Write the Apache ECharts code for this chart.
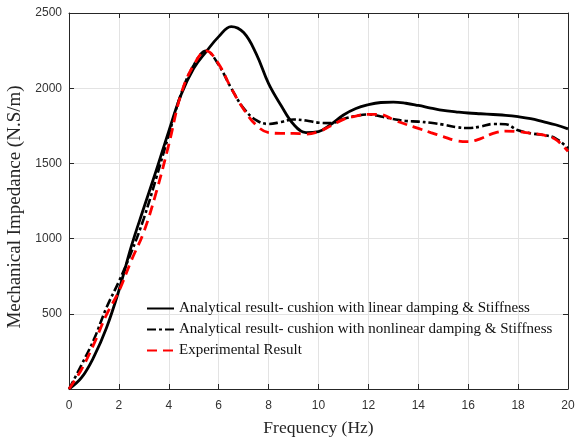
<!DOCTYPE html>
<html>
<head>
<meta charset="utf-8">
<script src="https://cdn.jsdelivr.net/npm/echarts@6/dist/echarts.min.js"></script>
<style>
html,body{margin:0;padding:0;background:#fff;}
#chart{width:579px;height:438px;}
</style>
</head>
<body>
<div id="chart"></div>
<script>
const freq = [0,0.5,1,1.5,2,2.5,3,3.5,4,4.5,5,5.5,6,6.5,7,7.5,8,8.5,9,9.5,10,10.5,11,11.5,12,12.5,13,13.5,14,14.5,15,15.5,16,16.5,17,17.5,18,18.5,19,19.5,20];
const linearDamping = [0,75,215,405,655,950,1205,1455,1715,1960,2132,2243,2343,2410,2370,2230,2030,1885,1760,1705,1712,1760,1822,1865,1890,1905,1908,1900,1885,1868,1852,1843,1835,1830,1825,1820,1811,1798,1778,1757,1730];
const nonlinearDamping = [0,160,330,540,715,910,1135,1405,1690,1966,2154,2248,2154,2000,1866,1788,1762,1775,1792,1785,1771,1768,1795,1815,1826,1812,1795,1782,1778,1770,1758,1742,1735,1745,1762,1760,1720,1700,1689,1667,1600];
const experimental = [0,130,300,493,650,855,1045,1310,1625,1966,2154,2248,2160,2000,1860,1755,1705,1700,1700,1695,1711,1750,1793,1815,1826,1825,1790,1760,1733,1705,1678,1652,1645,1665,1700,1715,1711,1700,1689,1660,1580];
const xTicks = [0,2,4,6,8,10,12,14,16,18,20];
const yTicks = [500,1000,1500,2000,2500];
const seriesNames = [
  'Analytical result- cushion with linear damping & Stiffness',
  'Analytical result- cushion with nonlinear damping & Stiffness',
  'Experimental Result'
];

const pair = (ys) => freq.map((f, i) => [f, ys[i]]);
const axisColor = '#262626';
const tickLabel = {fontFamily: 'Liberation Sans', fontSize: 12, color: '#333'};
const chart = echarts.init(document.getElementById('chart'), null, {renderer: 'canvas'});
chart.setOption({
  animation: false,
  backgroundColor: '#ffffff',
  grid: {left: 69, right: 11, top: 13, bottom: 49, containLabel: false, outerBoundsMode: 'none'},
  legend: {
    orient: 'vertical',
    left: 146, top: 301, padding: 0,
    itemWidth: 27, itemHeight: 14, itemGap: 6,
    itemStyle: {opacity: 0},
    textStyle: {fontFamily: 'Liberation Serif', fontSize: 15, color: '#111'},
    data: seriesNames
  },
  xAxis: [{
    type: 'value', min: 0, max: 20, interval: 2,
    name: 'Frequency (Hz)', nameLocation: 'middle', nameGap: 30,
    nameTextStyle: {fontFamily: 'Liberation Serif', fontSize: 17.5, color: axisColor},
    axisLine: {show: true, onZero: false, lineStyle: {color: axisColor, width: 1}},
    axisTick: {show: true, inside: true, length: 5, lineStyle: {color: axisColor}},
    axisLabel: Object.assign({margin: 11, formatter: v => xTicks.includes(v) ? String(v) : ''}, tickLabel),
    splitLine: {show: true, lineStyle: {color: '#e3e3e3', width: 1}}
  }, {
    type: 'value', min: 0, max: 20, interval: 2, position: 'top',
    axisLine: {show: true, onZero: false, lineStyle: {color: axisColor, width: 1}},
    axisTick: {show: true, inside: true, length: 5, lineStyle: {color: axisColor}},
    axisLabel: {show: false}, splitLine: {show: false}
  }],
  yAxis: [{
    type: 'value', min: 0, max: 2500, interval: 500,
    name: 'Mechanical Impedance (N.S/m)', nameLocation: 'middle', nameGap: 38,
    nameTextStyle: {fontFamily: 'Liberation Serif', fontSize: 19, color: axisColor, padding: [0, 12, 0, 0]},
    axisLine: {show: true, onZero: false, lineStyle: {color: axisColor, width: 1}},
    axisTick: {show: true, inside: true, length: 5, lineStyle: {color: axisColor}},
    axisLabel: Object.assign({margin: 7, formatter: v => yTicks.includes(v) ? String(v) : ''}, tickLabel),
    splitLine: {show: true, lineStyle: {color: '#e3e3e3', width: 1}}
  }, {
    type: 'value', min: 0, max: 2500, interval: 500, position: 'right',
    axisLine: {show: true, onZero: false, lineStyle: {color: axisColor, width: 1}},
    axisTick: {show: true, inside: true, length: 5, lineStyle: {color: axisColor}},
    axisLabel: {show: false}, splitLine: {show: false}
  }],
  series: [{
    name: seriesNames[0], type: 'line', data: pair(linearDamping), smooth: 0.4,
    symbol: 'none', lineStyle: {color: '#000', width: 2.8, type: 'solid'}, itemStyle: {color: '#000'}
  }, {
    name: seriesNames[1], type: 'line', data: pair(nonlinearDamping), smooth: 0.4,
    symbol: 'none', lineStyle: {color: '#000', width: 2.6, type: [9,3,3,3]}, itemStyle: {color: '#000'}
  }, {
    name: seriesNames[2], type: 'line', data: pair(experimental), smooth: 0.4,
    symbol: 'none', lineStyle: {color: '#ff0000', width: 2.8, type: [10,6]}, itemStyle: {color: '#ff0000'}
  }]
});
</script>
</body>
</html>
